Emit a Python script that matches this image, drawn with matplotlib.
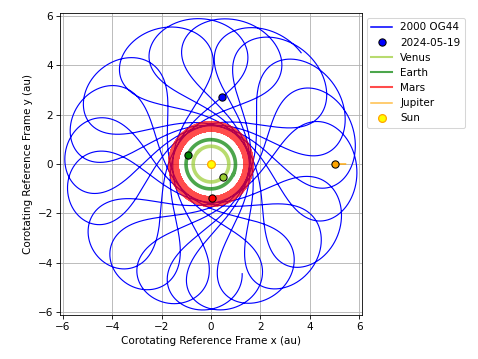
import numpy as np
import matplotlib.pyplot as plt

# Jupiter: a (au), e, longitude of perihelion (deg), mean anomaly on 2024-05-19 (rad)
jupiter_a, jupiter_e, jupiter_peri, jupiter_M0 = 5.2026, 0.0484, 14.75, 0.70

# inner planets: elements and positions on 2024-05-19
planet_names = ["Venus", "Earth", "Mars"]
planet_colors = ["yellowgreen", "green", "red"]
planet_a = [0.723, 1.000, 1.524]
planet_e = [0.0068, 0.0167, 0.0934]
planet_peri = [131.5, 102.9, 336.0]
planet_span = [0.33, 0.55, 50]  # years either side of the epoch
planet_x = [0.50, -0.94, 0.05]
planet_y = [-0.51, 0.36, -1.39]

# 2000 OG44: elements and position on 2024-05-19
ast_a, ast_q = 3.74, 1.55
ast_x, ast_y = 0.43, 2.70
span = 70  # years either side of 2024-05-19


def solve_kepler(M, e):
    E = np.array(M, dtype=float)
    for _ in range(30):
        E = E - (E - e * np.sin(E) - M) / (1 - e * np.cos(E))
    return E


def true_from_E(E, e):
    return 2 * np.arctan2(np.sqrt(1 + e) * np.sin(E / 2), np.sqrt(1 - e) * np.cos(E / 2))


def mean_from_true(f, e):
    E = 2 * np.arctan2(np.sqrt(1 - e) * np.sin(f / 2), np.sqrt(1 + e) * np.cos(f / 2))
    return E - e * np.sin(E)


def orbit(a, e, peri, M0, times):
    n = 2 * np.pi / a ** 1.5
    E = solve_kepler(M0 + n * times, e)
    r = a * (1 - e * np.cos(E))
    return r, peri + true_from_E(E, e)


def jupiter(times):
    return orbit(jupiter_a, jupiter_e, np.radians(jupiter_peri), jupiter_M0, times)


def corotate(r, lon, times):
    # rotate into the frame that follows Jupiter's longitude
    jlon = jupiter(times)[1]
    return r * np.cos(lon - jlon), r * np.sin(lon - jlon)


jlon0 = jupiter(np.array([0.0]))[1][0]
t = np.arange(-span, span, 0.005)

fig = plt.figure(figsize=(6.4, 4.806), dpi=74.7)
ax = fig.add_axes([0.1255, 0.1226, 0.6318, 0.8412])

# asteroid, outbound through its 2024-05-19 position
ast_e = 1 - ast_q / ast_a
r0 = np.hypot(ast_x, ast_y)
E0 = -np.arccos((1 - r0 / ast_a) / ast_e)
ast_peri = np.arctan2(ast_y, ast_x) + jlon0 - true_from_E(E0, ast_e)
ar, alon = orbit(ast_a, ast_e, ast_peri, E0 - ast_e * np.sin(E0), t)
x, y = corotate(ar, alon, t)
ax.plot(x, y, color="blue", lw=1.1, label="2000 OG44")
ax.plot(ast_x, ast_y, "o", color="blue", mec="black", ms=7, zorder=5, label="2024-05-19")

for name, col, a, e, peri, sp, px, py in zip(planet_names, planet_colors, planet_a, planet_e,
                                              planet_peri, planet_span, planet_x, planet_y):
    peri = np.radians(peri)
    f = np.arctan2(py, px) + jlon0 - peri
    tp = np.arange(-sp, sp, 0.002)
    pr, plon = orbit(a, e, peri, mean_from_true(f, e), tp)
    x, y = corotate(pr, plon, tp)
    ax.plot(x, y, color=col, lw=3.5, alpha=0.7, label=name)
    ax.plot(px, py, "o", color=col, mec="black", ms=7, zorder=5)

jr = jupiter(t)[0]
ax.plot(jr[t >= 0], np.zeros_like(jr[t >= 0]), color="orange", lw=1.5, alpha=0.7, label="Jupiter")
ax.plot(jr[t >= 0][0], 0, "o", color="orange", mec="black", ms=7, zorder=5)
ax.plot(0, 0, "o", color="yellow", mec="orange", ms=7.5, mew=1.2, zorder=5, lw=0, label="Sun")

ax.set_xlim(-6.12, 6.12)
ax.set_ylim(-6.12, 6.12)
ax.set_aspect("equal")
ax.set_xticks(range(-6, 7, 2))
ax.set_yticks(range(-6, 7, 2))
ax.grid(True)
ax.set_xlabel("Corotating Reference Frame x (au)")
ax.set_ylabel("Corotating Reference Frame y (au)")
leg = ax.legend(loc="upper left", bbox_to_anchor=(1.0, 1.0))
handles = leg.get_lines()
handles[0].set_linewidth(1.5)
for line in handles[2:5]:
    line.set_linewidth(2)

fig.savefig("out.png", dpi=74.7)
